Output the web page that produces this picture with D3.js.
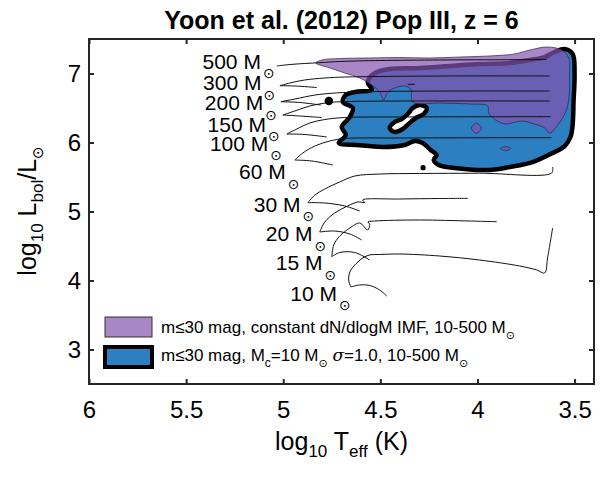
<!DOCTYPE html>
<html>
<head>
<meta charset="utf-8">
<script src="https://cdn.jsdelivr.net/npm/d3@7"></script>
<style>
  body { margin: 0; background: #fff; }
  text { font-family: "Liberation Sans", Arial, Helvetica, sans-serif; fill: #000; }
  .sun { font-family: "DejaVu Sans", sans-serif; }
</style>
</head>
<body>
<svg id="chart" width="612" height="479"></svg>
<script>
// Axes
const xDomain = [6, 3.4];
const yDomain = [2.5, 7.5];
const xTicks = [6, 5.5, 5, 4.5, 4, 3.5];
const yTicks = [3, 4, 5, 6, 7];

// Evolutionary tracks: [log Teff, log L]
const track500 = [[5.033,7.109],[4.966,7.130],[4.889,7.145],[4.812,7.157],[4.709,7.174],[4.503,7.188],[4.194,7.196],[3.886,7.199],[3.644,7.203]];
const track300a = [[5.017,6.823],[4.940,6.819],[4.827,6.797]];
const track300b = [[5.017,6.823],[4.966,6.862],[4.889,6.906],[4.786,6.935],[4.683,6.949],[4.503,6.957],[4.143,6.964],[3.629,6.964]];
const track300c = [[4.359,6.843],[4.323,6.843]];
const track200a = [[5.012,6.591],[4.915,6.580],[4.807,6.543]];
const track200b = [[5.012,6.591],[4.940,6.630],[4.837,6.688],[4.735,6.717],[4.678,6.725],[4.503,6.739],[4.143,6.746],[3.629,6.746]];
const track150a = [[5.002,6.399],[4.915,6.384],[4.801,6.362]];
const track150b = [[5.002,6.399],[4.940,6.457],[4.863,6.529],[4.760,6.580],[4.657,6.594],[4.400,6.601],[3.629,6.601]];
const track100a = [[4.981,6.123],[4.889,6.116],[4.776,6.080]];
const track100b = [[4.981,6.123],[4.930,6.196],[4.863,6.283],[4.786,6.333],[4.683,6.362],[4.400,6.370],[3.623,6.374]];
const track60a = [[4.940,5.746],[4.853,5.732],[4.745,5.674]];
const track60b = [[4.940,5.746],[4.899,5.848],[4.837,5.949],[4.760,6.022],[4.683,6.058],[4.400,6.065],[3.618,6.070]];
const track30a = [[4.873,5.128],[4.786,5.123],[4.683,5.080],[4.606,5.007]];
const track30b = [[4.873,5.128],[4.837,5.239],[4.786,5.326],[4.709,5.428],[4.632,5.514],[4.503,5.543],[4.297,5.551],[3.989,5.555],[3.618,5.558],[3.613,5.645]];
const track20a = [[4.812,4.703],[4.735,4.717],[4.657,4.674],[4.596,4.587]];
const track20b = [[4.812,4.703],[4.786,4.848],[4.735,4.978],[4.668,5.080],[4.616,5.138],[4.580,5.130],[4.591,5.167],[4.400,5.181],[4.194,5.188],[4.050,5.191]];
const track15a = [[4.750,4.345],[4.709,4.406],[4.632,4.406],[4.555,4.297]];
const track15b = [[4.750,4.345],[4.740,4.514],[4.709,4.645],[4.657,4.761],[4.606,4.833],[4.565,4.732],[4.555,4.819],[4.565,4.848],[4.529,4.862],[4.297,4.877],[4.040,4.862],[3.901,4.852]];
const track10a = [[4.652,3.906],[4.606,3.935],[4.555,3.928],[4.503,3.862],[4.467,3.775]];
const track10b = [[4.652,3.906],[4.663,4.007],[4.657,4.123],[4.627,4.239],[4.591,4.326],[4.555,4.370],[4.503,4.377],[4.400,4.384],[4.194,4.355],[3.989,4.297],[3.783,4.210],[3.695,4.152],[3.654,4.109],[3.639,4.326],[3.613,4.761]];

// Track labels (right end of "M", baseline)
const massNames = ["500","300","200","150","100","60","30","20","15","10"];
const labelLogT = [5.115,5.112,5.103,5.089,5.077,4.987,4.911,4.849,4.798,4.723];
const labelLogL = [7.067,6.754,6.464,6.159,5.884,5.471,4.993,4.572,4.145,3.710];

// Detectability regions
const lognormalRegion = [[4.678,6.688],[4.616,6.739],[4.544,6.761],[4.565,6.877],[4.529,7.007],[4.452,7.065],[4.297,7.080],[4.143,7.109],[3.989,7.138],[3.834,7.152],[3.731,7.196],[3.654,7.239],[3.603,7.312],[3.551,7.355],[3.510,7.283],[3.500,6.978],[3.505,6.616],[3.510,6.254],[3.521,6.080],[3.551,5.949],[3.613,5.848],[3.716,5.717],[3.834,5.645],[3.937,5.601],[4.066,5.616],[4.158,5.645],[4.200,5.674],[4.225,5.746],[4.210,5.819],[4.241,5.891],[4.282,5.993],[4.323,6.022],[4.374,5.964],[4.488,5.935],[4.621,5.964],[4.714,5.993],[4.678,6.109],[4.699,6.225],[4.657,6.370],[4.642,6.500],[4.693,6.587]];
const lognormalHole = [[4.452,6.210],[4.426,6.297],[4.390,6.341],[4.359,6.413],[4.333,6.500],[4.297,6.543],[4.261,6.500],[4.277,6.413],[4.318,6.355],[4.349,6.283],[4.385,6.196],[4.426,6.152]];
const flatRegion = [[4.832,7.152],[4.800,7.196],[4.710,7.217],[4.555,7.225],[4.400,7.232],[4.246,7.225],[4.090,7.239],[3.937,7.254],[3.810,7.283],[3.730,7.341],[3.640,7.384],[3.567,7.341],[3.530,7.225],[3.526,6.978],[3.530,6.616],[3.546,6.443],[3.582,6.268],[3.629,6.138],[3.654,6.210],[3.706,6.268],[3.773,6.312],[3.855,6.268],[3.906,6.326],[3.942,6.427],[3.947,6.529],[4.040,6.558],[4.194,6.572],[4.333,6.587],[4.344,6.775],[4.374,6.819],[4.426,6.790],[4.462,6.732],[4.483,6.616],[4.503,6.732],[4.544,6.833],[4.606,6.935],[4.683,7.007],[4.760,7.080]];
const flatIsle1 = [[4.032,6.206],[4.006,6.279],[3.980,6.206],[4.006,6.134]];
const flatIsle2 = [[3.881,5.913],[3.868,5.935],[3.842,5.935],[3.829,5.913],[3.842,5.891],[3.868,5.891]];

// Marked points
const dotLogT = [4.765, 4.280];
const dotLogL = [6.601, 5.635];
const dotSize = [4.3, 2.6];

const svg = d3.select("#chart");
const x = d3.scaleLinear().domain(xDomain).range([89, 594]);
const y = d3.scaleLinear().domain(yDomain).range([384, 39]);

svg.append("defs").append("clipPath").attr("id", "plotArea")
  .append("rect").attr("x", 89).attr("y", 39).attr("width", 505).attr("height", 345);

const plot = svg.append("g").attr("clip-path", "url(#plotArea)");

const closedShape = d3.line().x(d => x(d[0])).y(d => y(d[1])).curve(d3.curveCatmullRomClosed.alpha(0.5));
const openLine = d3.line().x(d => x(d[0])).y(d => y(d[1])).curve(d3.curveCatmullRom.alpha(0.5));

const blueFill = "#2c80c1";
const purpleFill = "#8553ad";
const purpleAlpha = 0.7;

// lognormal IMF region
plot.append("path").attr("d", closedShape(lognormalRegion))
  .attr("fill", blueFill).attr("stroke", "#000").attr("stroke-width", 4.5).attr("stroke-linejoin", "round");
plot.append("path").attr("d", closedShape(lognormalHole))
  .attr("fill", "#fff").attr("stroke", "#000").attr("stroke-width", 4.5).attr("stroke-linejoin", "round");

// flat IMF region
[flatRegion, flatIsle1, flatIsle2].forEach(poly => {
  plot.append("path").attr("d", closedShape(poly))
    .attr("fill", purpleFill).attr("fill-opacity", purpleAlpha)
    .attr("stroke", "#2a1f45").attr("stroke-width", 0.9).attr("stroke-opacity", 0.75);
});

// tracks
const tracks = [track500, track300a, track300b, track300c, track200a, track200b, track150a, track150b,
  track100a, track100b, track60a, track60b, track30a, track30b, track20a, track20b, track15a, track15b, track10a, track10b];
tracks.forEach(t => {
  plot.append("path").attr("d", openLine(t))
    .attr("fill", "none").attr("stroke", "#111").attr("stroke-width", 1);
});

dotLogT.forEach((t, i) => {
  plot.append("circle").attr("cx", x(t)).attr("cy", y(dotLogL[i])).attr("r", dotSize[i]).attr("fill", "#000");
});

// track labels
massNames.forEach((m, i) => {
  const px = x(labelLogT[i]), py = y(labelLogL[i]);
  svg.append("text").attr("x", px).attr("y", py).attr("text-anchor", "end")
    .attr("font-size", 21).text(m + " M");
  svg.append("text").attr("class", "sun").attr("x", px + 2).attr("y", py + 9.5)
    .attr("font-size", 14).text("\u2299");
});

// axes
const axG = svg.append("g");
const axBottom = axG.append("g").attr("transform", "translate(0,384)")
  .call(d3.axisBottom(x).tickValues(xTicks).tickSize(-5).tickPadding(17).tickFormat(d3.format("")));
const axTop = axG.append("g").attr("transform", "translate(0,39)")
  .call(d3.axisTop(x).tickValues(xTicks).tickSize(-5).tickFormat(""));
const axLeft = axG.append("g").attr("transform", "translate(89,0)")
  .call(d3.axisLeft(y).tickValues(yTicks).tickSize(-5).tickPadding(8).tickFormat(d3.format("")));
const axRight = axG.append("g").attr("transform", "translate(594,0)")
  .call(d3.axisRight(y).tickValues(yTicks).tickSize(-5).tickFormat(""));
[axBottom, axTop, axLeft, axRight].forEach(g => {
  g.select(".domain").remove();
  g.selectAll(".tick line").attr("stroke", "#262626").attr("stroke-width", 2);
  g.selectAll(".tick text").attr("font-size", 24).attr("fill", "#262626")
    .attr("font-family", "Liberation Sans, Arial, sans-serif");
});
axG.append("rect").attr("x", 89).attr("y", 39).attr("width", 505).attr("height", 345)
  .attr("fill", "none").attr("stroke", "#262626").attr("stroke-width", 2);

// title
svg.append("text").attr("x", 341.5).attr("y", 29).attr("text-anchor", "middle")
  .attr("font-size", 25).attr("font-weight", "bold")
  .text("Yoon et al. (2012) Pop III, z = 6");

// x label
const xl = svg.append("text").attr("x", 341.5).attr("y", 450).attr("text-anchor", "middle")
  .attr("font-size", 25).attr("fill", "#262626");
xl.append("tspan").text("log");
xl.append("tspan").attr("font-size", 17).attr("dy", 7).text("10");
xl.append("tspan").attr("dy", -7).text(" T");
xl.append("tspan").attr("font-size", 17).attr("dy", 7).text("eff");
xl.append("tspan").attr("dy", -7).text(" (K)");

// y label
const yl = svg.append("text").attr("transform", "translate(36,211) rotate(-90)")
  .attr("text-anchor", "middle").attr("font-size", 25).attr("fill", "#262626");
yl.append("tspan").text("log");
yl.append("tspan").attr("font-size", 17).attr("dy", 7).text("10");
yl.append("tspan").attr("dy", -7).text(" L");
yl.append("tspan").attr("font-size", 17).attr("dy", 7).text("bol");
yl.append("tspan").attr("dy", -7).text("/L");
yl.append("tspan").attr("class", "sun").attr("font-size", 15).attr("dy", 7).text("\u2299");

// legend
const lg = svg.append("g");
lg.append("rect").attr("x", 105).attr("y", 317).attr("width", 47).attr("height", 20)
  .attr("fill", purpleFill).attr("fill-opacity", purpleAlpha).attr("stroke", "#333").attr("stroke-width", 1);
lg.append("rect").attr("x", 105).attr("y", 347).attr("width", 47).attr("height", 20)
  .attr("fill", blueFill).attr("stroke", "#000").attr("stroke-width", 4);
const t1 = lg.append("text").attr("x", 161).attr("y", 333).attr("font-size", 17);
t1.append("tspan").text("m\u226430 mag, constant dN/dlogM IMF, 10-500 M");
t1.append("tspan").attr("class", "sun").attr("font-size", 11).attr("dy", 6).text("\u2299");
const t2 = lg.append("text").attr("x", 161).attr("y", 361).attr("font-size", 17);
t2.append("tspan").text("m\u226430 mag, M");
t2.append("tspan").attr("font-size", 12).attr("dy", 6).text("c");
t2.append("tspan").attr("dy", -6).text("=10 M");
t2.append("tspan").attr("class", "sun").attr("font-size", 11).attr("dy", 6).text("\u2299");
t2.append("tspan").attr("dy", -6).text(" ");
t2.append("tspan").attr("font-style", "italic").attr("font-family", "DejaVu Serif, serif").text("\u03c3");
t2.append("tspan").text("=1.0, 10-500 M");
t2.append("tspan").attr("class", "sun").attr("font-size", 11).attr("dy", 6).text("\u2299");
</script>
</body>
</html>
